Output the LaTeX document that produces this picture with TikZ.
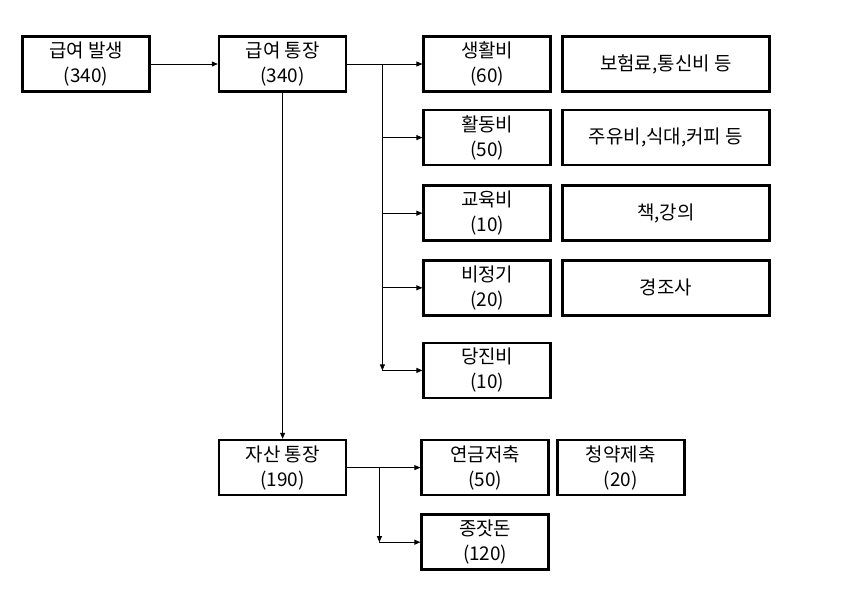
\documentclass[tikz,border=0pt]{standalone}
\usepackage{fontspec}
\setmainfont{Noto Sans CJK KR}
\usetikzlibrary{arrows.meta,positioning,calc}

\begin{document}
\begin{tikzpicture}[x=1bp,y=1bp,>={Triangle[length=6bp,width=5bp]},
    box/.style={rectangle,draw,line width=2.6bp,minimum width=127bp,minimum height=55bp,align=center,font=\fontsize{19}{25}\selectfont},
    notebox/.style={box,minimum width=207bp},
    line/.style={line width=0.8bp}]
    \useasboundingbox (0,0) rectangle (855,-616);
    \node[box](pay) at (86,-64){급여 발생\\(340)};
    \node[box](acct)[right=67bp of pay]{급여 통장\\(340)};
    \node[box](living)[right=75bp of acct]{생활비\\(60)};
    \node[box](activity)[below=16bp of living]{활동비\\(50)};
    \node[box](edu)[below=18bp of activity]{교육비\\(10)};
    \node[box](irreg)[below=17bp of edu]{비정기\\(20)};
    \node[box](waste)[below=25bp of irreg]{당진비\\(10)};
    \node[notebox](livingnote)[right=9bp of living]{보험료,통신비 등};
    \node[notebox](activitynote)[right=9bp of activity]{주유비,식대,커피 등};
    \node[notebox](edunote)[right=9bp of edu]{책,강의};
    \node[notebox](irregnote)[right=9bp of irreg]{경조사};
    \node[box](asset)[below=346bp of acct]{자산 통장\\(190)};
    \node[box](pension)[right=73bp of asset]{연금저축\\(50)};
    \node[box](sub)[right=6bp of pension]{청약제축\\(20)};
    \node[box](seed)[below=17bp of pension]{종잣돈\\(120)};
    \coordinate[right=35bp of acct.east](split);
    \coordinate[right=32bp of asset.east](split2);
    \draw[line,->](pay)--(acct);
    \draw[line,->](acct)--(living);
    \draw[line,->](split)--(split|-waste);
    \foreach \n in {activity,edu,irreg,waste}
        \draw[line,->](split|-\n)--(\n);
    \draw[line,->](acct)--(asset);
    \draw[line,->](asset)--(pension);
    \draw[line,->](split2)--(split2|-seed);
    \draw[line,->](split2|-seed)--(seed);
\end{tikzpicture}
\end{document}
